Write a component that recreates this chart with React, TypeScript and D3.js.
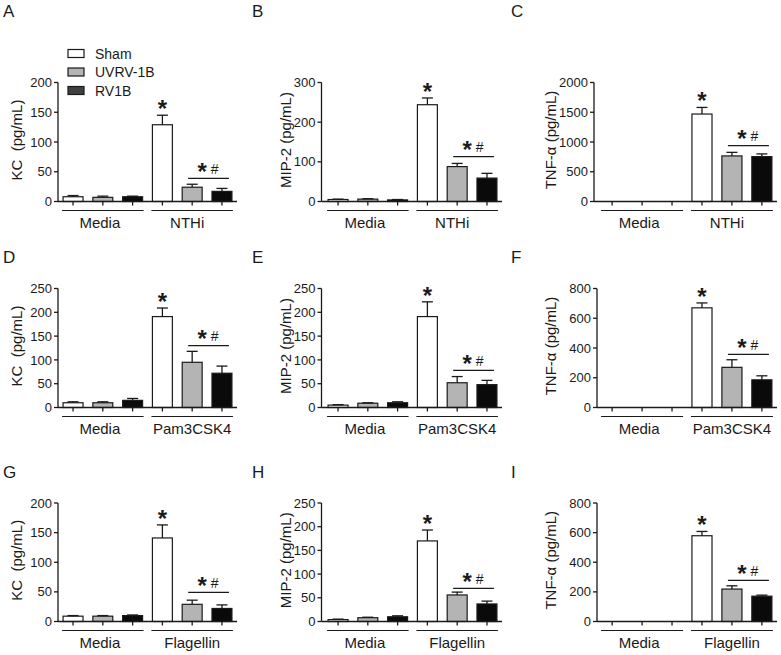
import React from 'react';
import * as d3 from 'd3';

const FONT = '"Liberation Sans", Arial, Helvetica, sans-serif';

// ---------- data ----------
const seriesNames = ['Sham', 'UVRV-1B', 'RV1B'];
const groupNames = ['Media', 'Stim'];
const stimuli = ['NTHi', 'Pam3CSK4', 'Flagellin'];
const yLabels = ['KC\u00a0\u00a0(pg/mL)', 'MIP-2 (pg/mL)', 'TNF-\u03b1 (pg/mL)'];
const panelLetters = ['A', 'B', 'C', 'D', 'E', 'F', 'G', 'H', 'I'];

// order per panel: Media Sham, Media UVRV-1B, Media RV1B, Stim Sham, Stim UVRV-1B, Stim RV1B
const kcNTHiMean = [8, 7, 8, 129, 24, 17];
const kcNTHiErr = [2, 2, 1, 16, 5, 5];
const mip2NTHiMean = [5, 6, 4, 244, 88, 59];
const mip2NTHiErr = [1, 1, 1, 17, 8, 12];
const tnfNTHiMean = [0, 0, 0, 1470, 766, 754];
const tnfNTHiErr = [0, 0, 0, 111, 60, 46];

const kcPamMean = [10, 10, 15, 191, 95, 72];
const kcPamErr = [2, 2, 4, 18, 23, 15];
const mip2PamMean = [5, 9, 10, 191, 52, 48];
const mip2PamErr = [1, 1, 2, 31, 13, 9];
const tnfPamMean = [0, 0, 0, 670, 270, 186];
const tnfPamErr = [0, 0, 0, 33, 51, 27];

const kcFlaMean = [9, 9, 10, 141, 29, 22];
const kcFlaErr = [1, 1, 1, 22, 7, 6];
const mip2FlaMean = [4, 8, 10, 170, 56, 37];
const mip2FlaErr = [1, 1, 2, 23, 6, 6];
const tnfFlaMean = [0, 0, 0, 579, 219, 171];
const tnfFlaErr = [0, 0, 0, 29, 22, 7];

const panelMeans = [kcNTHiMean, mip2NTHiMean, tnfNTHiMean, kcPamMean, mip2PamMean, tnfPamMean, kcFlaMean, mip2FlaMean, tnfFlaMean];
const panelErrs = [kcNTHiErr, mip2NTHiErr, tnfNTHiErr, kcPamErr, mip2PamErr, tnfPamErr, kcFlaErr, mip2FlaErr, tnfFlaErr];
const yMax = [200, 300, 2000, 250, 250, 800, 200, 250, 800];
const yStep = [50, 100, 500, 50, 50, 200, 50, 50, 200];
const sigLevel = [39, 113, 939, 130, 78, 357, 49, 70, 277];

// ---------- styles / layout ----------
const barFill = ['#ffffff', '#b4b4b4', '#0a0a0a'];
const legendFill = ['#ffffff', '#b4b4b4', '#404040'];
const INK = '#1a1a1a';
const rowGeom = [
  { top: 82.5, bottom: 201.5, letterY: 17 },
  { top: 288.5, bottom: 407.5, letterY: 263 },
  { top: 503, bottom: 621.5, letterY: 478 },
];
const colGeom = [
  { axisX: 58, bandL: 58, bandR: 237, labelX: 22, letterX: 3 },
  { axisX: 321.5, bandL: 323, bandR: 502, labelX: 291, letterX: 252 },
  { axisX: 597, bandL: 597, bandR: 777, labelX: 556, letterX: 511 },
];
const axisShift = [0, 0, -3, 0, 0, 0, 0, 0, 0];
const stimLabelShift = [-5, 0, 0];

function Panel({ idx }: { idx: number }) {
  const r = Math.floor(idx / 3);
  const c = idx % 3;
  const { top, bottom, letterY } = rowGeom[r];
  const col = colGeom[c];
  const axisX = col.axisX + axisShift[idx];
  const means = panelMeans[idx];
  const errs = panelErrs[idx];
  const y = d3.scaleLinear().domain([0, yMax[idx]]).range([bottom, top]);
  const keys = d3.range(6).map(String);
  const x = d3.scaleBand<string>().domain(keys).range([col.bandL, col.bandR]).paddingInner(0.33).paddingOuter(0.17);
  const bw = x.bandwidth();
  const ticks = d3.range(0, yMax[idx] + yStep[idx] / 2, yStep[idx]);
  const cx = (i: number) => (x(String(i)) as number) + bw / 2;
  const capW = 11;

  const groups = [0, 1].map((g) => {
    const first = x(String(g * 3)) as number;
    const last = (x(String(g * 3 + 2)) as number) + bw;
    const x1 = first - 1;
    const x2 = last + 1;
    const label = g === 0 ? groupNames[0] : stimuli[r];
    const shift = g === 0 ? -3 : stimLabelShift[r];
    return { x1, x2, label, shift };
  });

  const shamTop = y(means[3] + errs[3]);
  const sigY = y(sigLevel[idx]);
  const mid = (cx(4) + cx(5)) / 2;

  return (
    <g>
      <text x={col.letterX} y={letterY} fontSize={17} fontFamily={FONT} fill={INK}>{panelLetters[idx]}</text>
      {/* y label */}
      <text
        transform={`translate(${col.labelX},${(top + bottom) / 2 - 2}) rotate(-90)`}
        textAnchor="middle"
        fontSize={15}
        fontFamily={FONT}
        fill={INK}
      >
        {yLabels[c]}
      </text>
      {/* bars */}
      {means.map((m, i) => (
        <g key={i}>
          {m > 0 && (
            <rect
              x={x(String(i))}
              y={y(m)}
              width={bw}
              height={bottom - y(m)}
              fill={barFill[i % 3]}
              stroke={INK}
              strokeWidth={1.2}
            />
          )}
          {errs[i] > 0 && (
            <g stroke={INK} strokeWidth={1.3}>
              <line x1={cx(i)} x2={cx(i)} y1={y(m)} y2={y(m + errs[i])} />
              <line x1={cx(i) - capW / 2} x2={cx(i) + capW / 2} y1={y(m + errs[i])} y2={y(m + errs[i])} />
            </g>
          )}
        </g>
      ))}
      {/* axes */}
      <g stroke={INK} strokeWidth={1.3} fill="none">
        <line x1={axisX} x2={axisX} y1={top} y2={bottom} />
        <line x1={axisX} x2={col.bandR} y1={bottom} y2={bottom} />
        {ticks.map((t) => (
          <line key={t} x1={axisX - 4} x2={axisX} y1={y(t)} y2={y(t)} />
        ))}
        {keys.map((k, i) => (
          <line key={k} x1={cx(i)} x2={cx(i)} y1={bottom} y2={bottom + 4} />
        ))}
      </g>
      {ticks.map((t) => (
        <text key={t} x={axisX - 6} y={y(t) + 4.6} textAnchor="end" fontSize={13} fontFamily={FONT} fill={INK}>
          {t}
        </text>
      ))}
      {/* group underlines and labels */}
      {groups.map((g, gi) => (
        <g key={gi}>
          <line x1={g.x1} x2={g.x2} y1={bottom + 9} y2={bottom + 9} stroke={INK} strokeWidth={1.2} />
          <text x={(g.x1 + g.x2) / 2 + g.shift} y={bottom + 26.5} textAnchor="middle" fontSize={15} fontFamily={FONT} fill={INK}>
            {g.label}
          </text>
        </g>
      ))}
      {/* significance */}
      <text x={cx(3)} y={shamTop + 2} textAnchor="middle" fontSize={24} fontWeight="bold" fontFamily={FONT} fill={INK}>*</text>
      <line x1={cx(4) - 4} x2={x('5')! + bw - 3} y1={sigY} y2={sigY} stroke={INK} strokeWidth={1.2} />
      <text x={mid - 5} y={sigY + 1.5} textAnchor="middle" fontSize={24} fontWeight="bold" fontFamily={FONT} fill={INK}>*</text>
      <text x={mid + 7.5} y={sigY - 4.5} textAnchor="middle" fontSize={14} fontFamily={FONT} fill={INK}>#</text>
      {/* legend in first panel */}
      {idx === 0 &&
        seriesNames.map((s, i) => (
          <g key={s}>
            <rect x={68} y={49.5 + i * 18.5} width={16} height={8} fill={legendFill[i]} stroke={INK} strokeWidth={1.2} />
            <text x={95} y={59 + i * 18.3} fontSize={14} fontFamily={FONT} fill={INK}>{s}</text>
          </g>
        ))}
    </g>
  );
}

export default function App() {
  return (
    <svg
      width={781}
      height={655}
      viewBox="0 0 781 655"
      style={{ position: 'absolute', left: 0, top: 0, background: '#fff' }}
    >
      <rect width={781} height={655} fill="#fff" />
      {d3.range(9).map((i) => (
        <Panel key={i} idx={i} />
      ))}
    </svg>
  );
}
